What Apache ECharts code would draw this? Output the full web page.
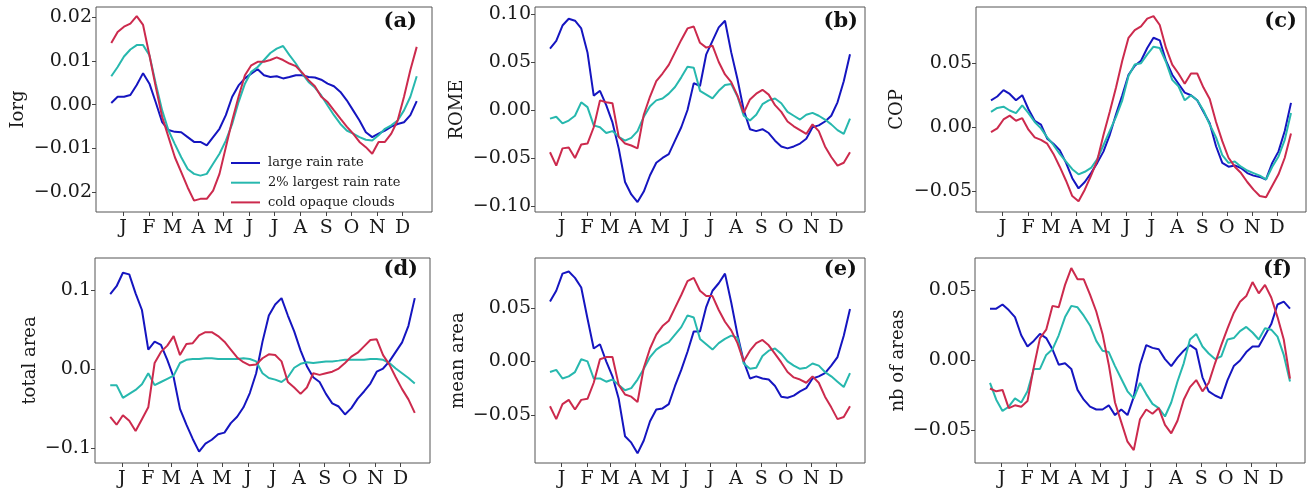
<!DOCTYPE html>
<html><head><meta charset="utf-8">
<script src="https://cdn.jsdelivr.net/npm/echarts@6/dist/echarts.min.js"></script>
<style>html,body{margin:0;padding:0;background:#fff}#c{width:1311px;height:493px}</style>
</head><body><div id="c"></div>
<script>
// sampling days (day of year, roughly every quarter month)
const days = [0,7.6,15.2,22.8,30.4,38.0,45.6,53.2,60.8,68.4,76.0,83.6,91.3,98.9,106.5,114.1,121.7,129.3,136.9,144.5,152.1,159.7,167.3,174.9,182.5,190.1,197.7,205.3,212.9,220.5,228.1,235.7,243.3,250.9,258.5,266.1,273.8,281.4,289.0,296.6,304.2,311.8,319.4,327.0,334.6,342.2,349.8,357.4,365.0];
const monthTicks = [14,45,73,104,134,165,195,226,257,287,318,348];
const monthLabels = ['J','F','M','A','M','J','J','A','S','O','N','D'];
const seriesNames = ['large rain rate','2% largest rain rate','cold opaque clouds'];
const seriesColors = ['#1515c0','#27b8ae','#cc2a4d'];

// (a) Iorg
const iorgLarge = [0.0004,0.0018,0.0018,0.0022,0.0045,0.0072,0.0048,0.0005,-0.0040,-0.0058,-0.0062,-0.0063,-0.0074,-0.0085,-0.0085,-0.0093,-0.0074,-0.0055,-0.0024,0.0018,0.0044,0.0060,0.0071,0.0081,0.0067,0.0063,0.0065,0.0060,0.0063,0.0067,0.0067,0.0063,0.0062,0.0057,0.0048,0.0042,0.0029,0.0010,-0.0013,-0.0036,-0.0063,-0.0074,-0.0066,-0.0059,-0.0050,-0.0044,-0.0040,-0.0024,0.0008];
const iorg2pct = [0.0065,0.0086,0.0110,0.0126,0.0136,0.0136,0.0113,0.0048,-0.0013,-0.0059,-0.0090,-0.0120,-0.0147,-0.0158,-0.0162,-0.0158,-0.0135,-0.0112,-0.0082,-0.0044,0.0006,0.0048,0.0075,0.0086,0.0102,0.0118,0.0128,0.0134,0.0113,0.0094,0.0071,0.0052,0.0039,0.0021,-0.0002,-0.0024,-0.0044,-0.0059,-0.0066,-0.0074,-0.0080,-0.0082,-0.0070,-0.0055,-0.0047,-0.0036,-0.0013,0.0018,0.0065];
const iorgCold = [0.0141,0.0166,0.0178,0.0185,0.0202,0.0182,0.0113,0.0040,-0.0028,-0.0074,-0.0120,-0.0154,-0.0189,-0.0219,-0.0215,-0.0215,-0.0196,-0.0158,-0.0097,-0.0036,0.0018,0.0067,0.0090,0.0098,0.0098,0.0102,0.0108,0.0102,0.0094,0.0088,0.0073,0.0056,0.0042,0.0018,0.0006,-0.0013,-0.0032,-0.0050,-0.0066,-0.0085,-0.0097,-0.0112,-0.0085,-0.0085,-0.0066,-0.0036,0.0018,0.0079,0.0132];
// (b) ROME
const romeLarge = [0.064,0.072,0.088,0.095,0.093,0.085,0.060,0.015,0.020,0.005,-0.013,-0.040,-0.075,-0.088,-0.096,-0.085,-0.068,-0.055,-0.050,-0.046,-0.032,-0.018,0.000,0.028,0.025,0.058,0.072,0.086,0.093,0.060,0.032,0.000,-0.020,-0.022,-0.020,-0.024,-0.032,-0.038,-0.040,-0.038,-0.035,-0.030,-0.018,-0.016,-0.012,-0.006,0.008,0.030,0.058];
const rome2pct = [-0.009,-0.007,-0.014,-0.011,-0.006,0.008,0.003,-0.016,-0.018,-0.024,-0.022,-0.028,-0.032,-0.029,-0.022,-0.007,0.004,0.010,0.012,0.017,0.024,0.034,0.045,0.044,0.020,0.016,0.012,0.020,0.026,0.027,0.014,-0.006,-0.011,-0.005,0.006,0.010,0.012,0.007,-0.002,-0.006,-0.010,-0.005,-0.003,-0.006,-0.010,-0.015,-0.021,-0.025,-0.009];
const romeCold = [-0.044,-0.058,-0.040,-0.039,-0.050,-0.036,-0.035,-0.018,0.010,0.008,0.007,-0.028,-0.035,-0.037,-0.040,-0.005,0.014,0.030,0.038,0.047,0.060,0.073,0.085,0.087,0.070,0.065,0.067,0.050,0.037,0.029,0.015,-0.003,0.011,0.017,0.021,0.016,0.005,-0.002,-0.012,-0.017,-0.021,-0.025,-0.015,-0.022,-0.038,-0.049,-0.058,-0.055,-0.044];
// (c) COP
const copLarge = [0.021,0.024,0.029,0.026,0.021,0.025,0.014,0.005,0.002,-0.009,-0.013,-0.018,-0.028,-0.040,-0.048,-0.043,-0.036,-0.028,-0.019,-0.006,0.010,0.025,0.041,0.048,0.052,0.062,0.070,0.068,0.052,0.041,0.034,0.027,0.025,0.021,0.012,0.003,-0.015,-0.028,-0.031,-0.030,-0.032,-0.036,-0.038,-0.039,-0.041,-0.028,-0.019,-0.003,0.019];
const cop2pct = [0.012,0.015,0.016,0.013,0.011,0.017,0.011,0.004,-0.001,-0.008,-0.014,-0.021,-0.027,-0.033,-0.037,-0.035,-0.032,-0.025,-0.014,-0.003,0.008,0.021,0.040,0.049,0.050,0.057,0.063,0.062,0.051,0.037,0.032,0.021,0.025,0.021,0.013,0.002,-0.008,-0.022,-0.028,-0.027,-0.031,-0.034,-0.036,-0.038,-0.041,-0.031,-0.023,-0.010,0.011];
const copCold = [-0.004,-0.001,0.006,0.009,0.005,0.007,-0.002,-0.008,-0.010,-0.013,-0.021,-0.031,-0.042,-0.054,-0.058,-0.049,-0.038,-0.026,-0.006,0.012,0.031,0.052,0.070,0.076,0.079,0.085,0.087,0.080,0.062,0.049,0.042,0.034,0.042,0.042,0.031,0.022,0.004,-0.011,-0.024,-0.031,-0.036,-0.043,-0.049,-0.054,-0.055,-0.046,-0.037,-0.024,-0.005];
// (d) total area
const totLarge = [0.095,0.105,0.122,0.120,0.096,0.075,0.025,0.035,0.031,0.012,-0.010,-0.050,-0.070,-0.088,-0.104,-0.094,-0.089,-0.082,-0.080,-0.068,-0.060,-0.048,-0.030,-0.005,0.035,0.068,0.082,0.090,0.068,0.048,0.024,0.004,-0.010,-0.016,-0.031,-0.043,-0.047,-0.057,-0.049,-0.037,-0.028,-0.018,-0.003,0.001,0.010,0.022,0.034,0.055,0.090];
const tot2pct = [-0.020,-0.020,-0.036,-0.031,-0.026,-0.019,-0.005,-0.020,-0.016,-0.012,-0.008,0.008,0.012,0.013,0.013,0.014,0.014,0.013,0.013,0.013,0.013,0.014,0.013,0.010,-0.005,-0.011,-0.013,-0.016,-0.010,0.002,0.007,0.009,0.008,0.009,0.010,0.010,0.011,0.012,0.012,0.012,0.012,0.013,0.013,0.012,0.008,0.001,-0.005,-0.011,-0.018];
const totCold = [-0.060,-0.070,-0.058,-0.065,-0.078,-0.063,-0.048,0.008,0.022,0.030,0.042,0.018,0.032,0.033,0.043,0.047,0.047,0.042,0.035,0.025,0.015,0.009,0.005,0.006,0.014,0.019,0.018,0.010,-0.016,-0.023,-0.031,-0.023,-0.005,-0.007,-0.005,-0.003,0.001,0.008,0.016,0.021,0.029,0.037,0.038,0.018,0.006,-0.010,-0.025,-0.038,-0.055];
// (e) mean area
const meanLarge = [0.056,0.066,0.082,0.084,0.078,0.069,0.040,0.012,0.016,0.000,-0.014,-0.035,-0.070,-0.076,-0.086,-0.074,-0.056,-0.045,-0.044,-0.040,-0.023,-0.008,0.009,0.028,0.028,0.051,0.066,0.073,0.082,0.055,0.025,0.000,-0.016,-0.014,-0.016,-0.017,-0.023,-0.033,-0.034,-0.032,-0.028,-0.025,-0.016,-0.014,-0.011,-0.004,0.004,0.024,0.049];
const mean2pct = [-0.010,-0.008,-0.016,-0.014,-0.010,0.002,0.000,-0.016,-0.016,-0.019,-0.017,-0.022,-0.027,-0.025,-0.017,-0.007,0.004,0.011,0.015,0.018,0.025,0.032,0.043,0.041,0.021,0.016,0.011,0.017,0.021,0.024,0.022,-0.002,-0.007,-0.006,0.005,0.010,0.012,0.007,0.000,-0.004,-0.007,-0.006,-0.002,-0.004,-0.010,-0.014,-0.019,-0.024,-0.011];
const meanCold = [-0.042,-0.054,-0.040,-0.036,-0.045,-0.036,-0.035,-0.020,0.002,0.004,0.004,-0.022,-0.031,-0.033,-0.038,-0.006,0.012,0.025,0.033,0.038,0.050,0.062,0.075,0.078,0.066,0.061,0.061,0.048,0.037,0.029,0.017,0.000,0.010,0.017,0.020,0.015,0.007,-0.001,-0.010,-0.015,-0.017,-0.020,-0.014,-0.020,-0.033,-0.043,-0.054,-0.052,-0.042];
// (f) nb of areas
const nbLarge = [0.037,0.037,0.040,0.036,0.031,0.018,0.010,0.014,0.019,0.016,0.008,-0.003,-0.002,-0.006,-0.021,-0.028,-0.033,-0.035,-0.035,-0.032,-0.039,-0.035,-0.039,-0.026,-0.003,0.011,0.009,0.008,0.001,-0.004,0.002,0.007,0.011,0.008,-0.012,-0.022,-0.025,-0.027,-0.014,-0.004,0.000,0.006,0.010,0.010,0.018,0.026,0.040,0.042,0.037];
const nb2pct = [-0.016,-0.028,-0.036,-0.033,-0.027,-0.030,-0.022,-0.006,-0.006,0.004,0.008,0.018,0.031,0.039,0.038,0.032,0.025,0.014,0.007,0.006,-0.004,-0.013,-0.022,-0.027,-0.016,-0.024,-0.031,-0.034,-0.040,-0.030,-0.015,-0.002,0.015,0.019,0.010,0.005,0.001,0.003,0.015,0.016,0.021,0.024,0.020,0.015,0.023,0.022,0.017,0.004,-0.015];
const nbCold = [-0.020,-0.022,-0.021,-0.034,-0.032,-0.033,-0.029,-0.005,0.016,0.022,0.039,0.038,0.054,0.066,0.058,0.058,0.047,0.035,0.019,-0.003,-0.030,-0.044,-0.058,-0.064,-0.042,-0.035,-0.038,-0.034,-0.046,-0.052,-0.043,-0.028,-0.019,-0.014,-0.022,-0.016,-0.002,0.011,0.023,0.034,0.042,0.046,0.056,0.048,0.054,0.045,0.031,0.015,-0.013];

const panelNames = ['Iorg','ROME','COP','total area','mean area','nb of areas'];
const panelLetters = ['(a)','(b)','(c)','(d)','(e)','(f)'];
const panelSeries = [
  [iorgLarge, iorg2pct, iorgCold],
  [romeLarge, rome2pct, romeCold],
  [copLarge, cop2pct, copCold],
  [totLarge, tot2pct, totCold],
  [meanLarge, mean2pct, meanCold],
  [nbLarge, nb2pct, nbCold]
];
const yTicks = [
  [-0.02,-0.01,0,0.01,0.02],
  [-0.10,-0.05,0,0.05,0.10],
  [-0.05,0,0.05],
  [-0.1,0,0.1],
  [-0.05,0,0.05],
  [-0.05,0,0.05]
];
const yDecimals = [2,2,2,1,2,2];
const yMins = [-0.0245,-0.1063,-0.0665,-0.1184,-0.095,-0.0732];
const yMaxs = [0.0223,0.1073,0.0941,0.1407,0.0966,0.0732];

// layout (pixels)
const grids = [
  {left:96, top:7, width:336, height:205},
  {left:535, top:7, width:330, height:205},
  {left:976, top:7, width:330, height:205},
  {left:95, top:258, width:335, height:205},
  {left:535, top:258, width:330, height:205},
  {left:975, top:258, width:330, height:205}
];
const nameGaps = [69,69,70,56,68,68];
const letterPos = [[417,22],[858,22],[1297,22],[418,270],[857,270],[1292,270]];

const FONT = 'DejaVu Serif';
const TXT = '#1a1a1a';
const xMin = -18.25, xMax = 383.25;

const option = {
  animation: false,
  backgroundColor: '#fff',
  grid: grids.map(g => Object.assign({show:true, borderColor:'#555', borderWidth:1, backgroundColor:'transparent'}, g)),
  xAxis: grids.map((g,i) => ({
    type:'value', gridIndex:i, min:xMin, max:xMax,
    axisLine:{show:false, onZero:false},
    splitLine:{show:false},
    axisTick:{show:true, customValues: monthTicks, length:4, lineStyle:{color:'#444'}},
    axisLabel:{customValues: monthTicks, margin:7, fontFamily:FONT, fontSize:19, color:TXT,
      formatter: v => { const k = monthTicks.indexOf(v); return k>=0 ? monthLabels[k] : ''; }}
  })),
  yAxis: grids.map((g,i) => ({
    type:'value', gridIndex:i, min:yMins[i], max:yMaxs[i],
    name: panelNames[i], nameLocation:'middle', nameGap:nameGaps[i],
    nameTextStyle:{fontFamily:FONT, fontSize:18, color:TXT},
    axisLine:{show:false, onZero:false},
    splitLine:{show:false},
    axisTick:{show:true, customValues: yTicks[i], length:4, lineStyle:{color:'#444'}},
    axisLabel:{customValues: yTicks[i], margin:4, fontFamily:FONT, fontSize:19, color:TXT,
      formatter: v => (v < -1e-9 ? '\u2212' : '') + Math.abs(v).toFixed(yDecimals[i])}
  })),
  legend: {
    show:true, orient:'vertical', left:226, top:151,
    icon:'rect', itemWidth:29, itemHeight:2, itemGap:5.7,
    data: seriesNames,
    textStyle:{fontFamily:FONT, fontSize:13, lineHeight:14, color:TXT, padding:[0,0,0,3]},
    selectedMode:false
  },
  graphic: letterPos.map((p,i) => ({
    type:'text', x:p[0], y:p[1],
    style:{text:panelLetters[i], font:'bold 21px "DejaVu Serif"', fill:'#111', textAlign:'right', textVerticalAlign:'middle'}
  })),
  series: []
};

panelSeries.forEach((arrs, pi) => {
  arrs.forEach((vals, si) => {
    option.series.push({
      type:'line', name: seriesNames[si], xAxisIndex:pi, yAxisIndex:pi,
      data: days.map((d,k) => [d, vals[k]]),
      symbol:'none', showSymbol:false,
      lineStyle:{width:2, color:seriesColors[si]},
      itemStyle:{color:seriesColors[si]},
      z: 2
    });
  });
});

const chart = echarts.init(document.getElementById('c'));
chart.setOption(option);
</script></body></html>
